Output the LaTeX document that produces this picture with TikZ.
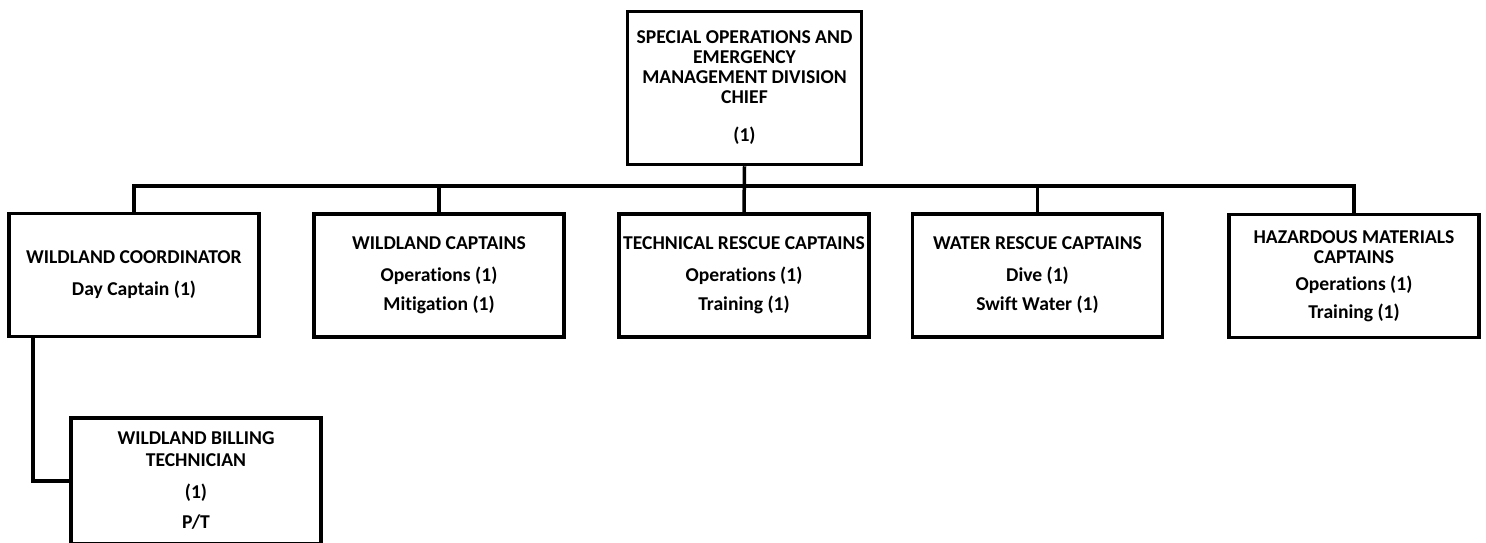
\documentclass[tikz,border=0pt]{standalone}
\usepackage{fontspec}
\setmainfont{Carlito}[Ligatures=NoCommon]
\begin{document}
\begin{tikzpicture}[x=1pt,y=-1pt,
  every node/.style={font=\fontsize{19.6}{20}\selectfont\bfseries},
  post/.style={draw=black,line width=3.5pt,fill=white,align=center,
    minimum width=250pt,minimum height=123pt,inner sep=0pt},
  link/.style={draw=black,line width=3.5pt,line join=miter}]
  \useasboundingbox (0,0) rectangle (1486,542);

  % division chief
  \node[post,minimum width=234pt,minimum height=153pt] (chief) at (744.5,88)
    {SPECIAL OPERATIONS AND\\EMERGENCY\\MANAGEMENT DIVISION\\CHIEF\\[18pt](1)};

  % captains row
  \node[post] (wc)   at (134,275)    {WILDLAND COORDINATOR\\[12pt]Day Captain (1)};
  \node[post] (wcap) at (439,275.5)  {WILDLAND CAPTAINS\\[12pt]Operations (1)\\[9pt]Mitigation (1)};
  \node[post] (trc)  at (744,275.5)  {TECHNICAL RESCUE CAPTAINS\\[12pt]Operations (1)\\[9pt]Training (1)};
  \node[post] (wrc)  at (1037.5,275.5) {WATER RESCUE CAPTAINS\\[12pt]Dive (1)\\[9pt]Swift Water (1)};
  \node[post] (hmc)  at (1354,276)   {HAZARDOUS MATERIALS\\CAPTAINS\\[7pt]Operations (1)\\[8pt]Training (1)};

  % billing technician (runs off the lower edge)
  \node[post,minimum height=126pt] (bill) at (196,481)
    {WILDLAND BILLING\\[2pt]TECHNICIAN\\[12pt](1)\\[10pt]P/T};

  % bus line
  \coordinate (bus) at (0,186);
  \draw[link] (chief.south) -- (trc.north);
  \draw[link] (wc.north) -- (wc.north |- bus) -- (hmc.north |- bus) -- (hmc.north);
  \draw[link] (wcap.north) -- (wcap.north |- bus);
  \draw[link] (wrc.north) -- (wrc.north |- bus);

  % coordinator to billing technician
  \coordinate (drop) at ([xshift=-101pt]wc.south);
  \draw[link] (drop) |- (bill.west);
\end{tikzpicture}
\end{document}
